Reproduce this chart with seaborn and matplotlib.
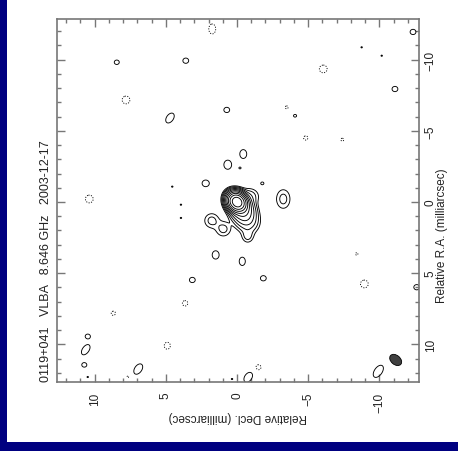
import numpy as np
import matplotlib
matplotlib.use("Agg")
import matplotlib.pyplot as plt
import seaborn as sns
from matplotlib.patches import Ellipse, Rectangle
from matplotlib.ticker import MultipleLocator

sns.set_style("white")
plt.rcParams["font.family"] = ["Liberation Sans", "DejaVu Sans"]

title_text = "0119+041   VLBA   8.646 GHz   2003-12-17"
xlabel_text = "Relative Decl. (milliarcsec)"
ylabel_text = "Relative R.A. (milliarcsec)"

# Gaussian brightness components
# (decl, ra in mas; peak in units of the lowest contour; sigmas in mas; angle in deg in decl/ra plane)
comp_decl = [0.0, -0.35, -0.7, -0.75, -0.9,
             1.78, 0.96, -3.25,
             8.45, 3.60, 4.71, 0.72, -4.08, -11.10, -12.37, -8.76, -10.17,
             -1.78, 3.14, -1.85, 1.50, -0.37, 2.20, 0.65, -0.44, -0.21,
             -12.63, -9.93, -0.79, 6.94, 10.63, 10.49, 10.73, 10.49, 0.35,
             4.55, 3.94, 3.94,
             1.74, 7.80, 10.38, -6.06, -3.49, -4.83, -7.40, 8.69, 3.65, 4.90,
             -1.50, -8.95, -8.41, 7.66]
comp_ra = [0.0, 0.5, 1.3, 2.4, -0.4,
           1.31, 1.90, -0.21,
           -9.82, -9.93, -5.90, -6.47, -6.06, -7.94, -11.95, -10.87, -10.28,
           -1.31, 5.48, 5.36, 3.72, 4.17, -1.31, -2.62, -3.37, -2.39,
           5.99, 11.90, 12.32, 11.74, 10.38, 9.44, 11.45, 12.30, 12.44,
           -1.08, 0.19, 1.12,
           -12.16, -7.17, -0.21, -9.35, -6.65, -4.50, -4.38, 7.82, 7.12, 10.10,
           11.62, 5.76, 3.65, 12.28]
comp_peak = [900, 45, 7, 2.5, 3,
             2.6, 2.6, 2.6,
             1.6, 1.6, 1.6, 1.6, 1.3, 1.6, 1.6, 1.1, 1.1,
             1.3, 1.6, 1.6, 1.6, 1.6, 1.6, 1.6, 1.6, 1.2,
             1.6, 1.6, 1.6, 1.6, 1.6, 1.6, 1.6, 1.1, 1.1,
             1.1, 1.1, 1.1,
             -1.6, -1.6, -1.6, -1.6, -1.3, -1.4, -1.3, -1.4, -1.5, -1.6,
             -1.5, -1.6, -1.2, -1.2]
comp_smaj = [0.33, 0.48, 0.50, 0.30, 0.40,
             0.35, 0.35, 0.47,
             0.18, 0.21, 0.40, 0.21, 0.15, 0.21, 0.21, 0.12, 0.12,
             0.15, 0.21, 0.21, 0.30, 0.30, 0.26, 0.33, 0.32, 0.12,
             0.21, 0.50, 0.40, 0.42, 0.42, 0.18, 0.18, 0.12, 0.12,
             0.12, 0.12, 0.12,
             0.36, 0.28, 0.28, 0.28, 0.14, 0.18, 0.14, 0.18, 0.21, 0.25,
             0.21, 0.28, 0.14, 0.14]
comp_smin = [0.28, 0.40, 0.45, 0.26, 0.35,
             0.35, 0.35, 0.34,
             0.16, 0.19, 0.25, 0.19, 0.13, 0.19, 0.19, 0.10, 0.10,
             0.13, 0.19, 0.19, 0.25, 0.22, 0.24, 0.28, 0.25, 0.10,
             0.19, 0.28, 0.26, 0.26, 0.24, 0.16, 0.16, 0.10, 0.10,
             0.10, 0.10, 0.10,
             0.25, 0.28, 0.28, 0.28, 0.14, 0.18, 0.14, 0.18, 0.21, 0.22,
             0.21, 0.28, 0.14, 0.14]
comp_angle = [-45, -60, -60, 90, 0,
              0, 0, 90,
              0, 0, 55, 0, 0, 0, 0, 0, 0,
              0, 0, 0, 90, 90, 0, 90, 90, 0,
              0, 55, 55, 55, 55, 0, 0, 0, 0,
              0, 0, 0,
              90, 0, 0, 0, 0, 0, 0, 0, 0, 90,
              0, 0, 0, 0]

contour_levels = [-1, 1, 2, 4, 8, 16, 32, 64, 128, 256, 512]

beam_decl = [-11.15]
beam_ra = [11.10]
beam_major = [0.95]
beam_minor = [0.65]
beam_angle = [-40]

xlim = (12.65, -12.79)
ylim = (12.65, -12.86)

# build brightness map
d = np.linspace(13.2, -13.2, 900)
r = np.linspace(-13.2, 13.2, 900)
D, R = np.meshgrid(d, r)
Z = np.zeros_like(D)
for x0, y0, a, sj, sn, ang in zip(comp_decl, comp_ra, comp_peak, comp_smaj, comp_smin, comp_angle):
    t = np.deg2rad(ang)
    dx = D - x0
    dy = R - y0
    u = dx * np.cos(t) + dy * np.sin(t)
    v = -dx * np.sin(t) + dy * np.cos(t)
    Z += a * np.exp(-0.5 * ((u / sj) ** 2 + (v / sn) ** 2))

W, H = 458, 452
fig = plt.figure(figsize=(W / 100, H / 100), dpi=100)
fig.patch.set_facecolor("white")
fig.patches.append(Rectangle((0, 0), 7 / W, 1, transform=fig.transFigure,
                             facecolor="#000080", edgecolor="none", zorder=0))
fig.patches.append(Rectangle((0, 0), 1, 9 / H, transform=fig.transFigure,
                             facecolor="#000080", edgecolor="none", zorder=0))

ax = fig.add_axes([57 / W, 1 - 383 / H, 362 / W, 363 / H])
ax.set_facecolor("white")
line_styles = [(0, (1.2, 1.6))] + ["solid"] * (len(contour_levels) - 1)
ax.contour(D, R, Z, levels=contour_levels, colors="black", linewidths=0.65,
           linestyles=line_styles)
for bx, by, bmj, bmn, ba in zip(beam_decl, beam_ra, beam_major, beam_minor, beam_angle):
    ax.add_patch(Ellipse((bx, by), bmj, bmn, angle=ba, facecolor="#404040",
                         edgecolor="black", linewidth=0.6))

ax.set_xlim(*xlim)
ax.set_ylim(*ylim)
ax.xaxis.set_major_locator(MultipleLocator(5))
ax.xaxis.set_minor_locator(MultipleLocator(1))
ax.yaxis.set_major_locator(MultipleLocator(5))
ax.yaxis.set_minor_locator(MultipleLocator(1))
ax.tick_params(which="both", direction="in", top=True, bottom=True, left=True, right=True,
               labelleft=False, labelright=True, labelbottom=True, labeltop=False,
               color="#777777", labelsize=8.5, labelcolor="#222222")
ax.tick_params(which="major", length=6, width=1.0)
ax.tick_params(which="minor", length=3, width=1.0)
ax.tick_params(axis="x", pad=7)
ax.tick_params(axis="y", pad=4)
for lab in ax.get_xticklabels():
    lab.set_rotation(90)
    lab.set_va("top")
    lab.set_ha("center")
for lab in ax.get_yticklabels():
    lab.set_rotation(90)
    lab.set_va("center")
for sp in ax.spines.values():
    sp.set_color("#777777")
    sp.set_linewidth(1.2)

fig.text(46 / W, 1 - 382 / H, title_text, rotation=90, ha="center", va="bottom",
         fontsize=9, color="#222222")
fig.text(238 / W, 1 - 417 / H, xlabel_text, rotation=180, ha="center", va="center",
         fontsize=8.5, color="#222222")
fig.text(442 / W, 1 - 236 / H, ylabel_text, rotation=90, ha="center", va="center",
         fontsize=8.5, color="#222222")

fig.savefig("out.png", dpi=100)
